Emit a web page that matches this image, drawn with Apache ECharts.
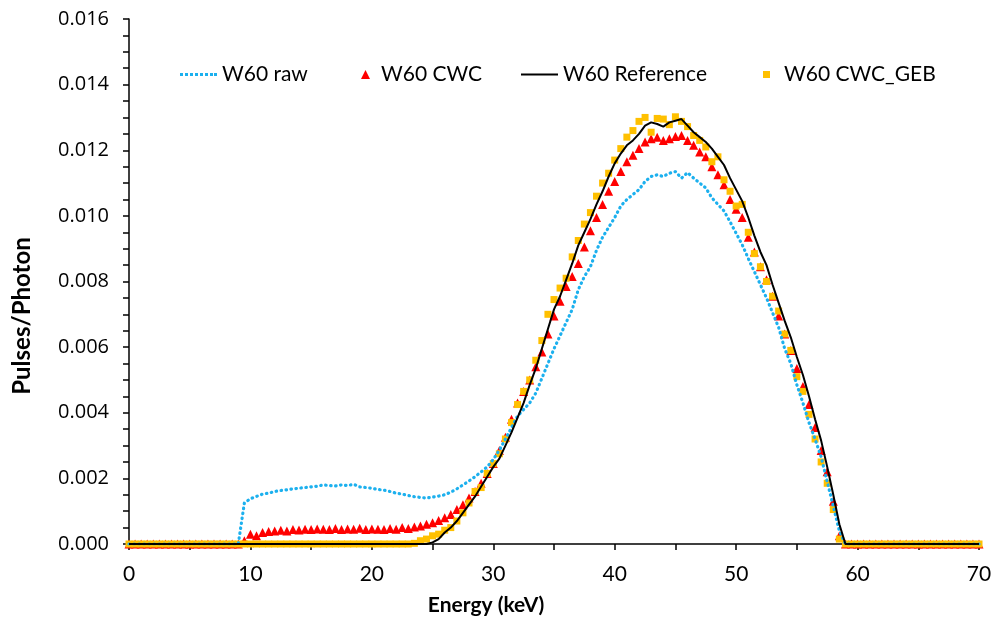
<!DOCTYPE html>
<html>
<head>
<meta charset="utf-8">
<title>W60 spectra</title>
<script src="https://cdn.jsdelivr.net/npm/echarts@6/dist/echarts.min.js"></script>
<style>
  html, body { margin: 0; padding: 0; background: #fff; }
  #chart { width: 995px; height: 625px; }
</style>
</head>
<body>
<div id="chart"></div>
<script>
// energie (keV), pas de 0.5
var energy = [
  0, 0.5, 1, 1.5, 2, 2.5, 3, 3.5, 4, 4.5,
  5, 5.5, 6, 6.5, 7, 7.5, 8, 8.5, 9, 9.5,
  10, 10.5, 11, 11.5, 12, 12.5, 13, 13.5, 14, 14.5,
  15, 15.5, 16, 16.5, 17, 17.5, 18, 18.5, 19, 19.5,
  20, 20.5, 21, 21.5, 22, 22.5, 23, 23.5, 24, 24.5,
  25, 25.5, 26, 26.5, 27, 27.5, 28, 28.5, 29, 29.5,
  30, 30.5, 31, 31.5, 32, 32.5, 33, 33.5, 34, 34.5,
  35, 35.5, 36, 36.5, 37, 37.5, 38, 38.5, 39, 39.5,
  40, 40.5, 41, 41.5, 42, 42.5, 43, 43.5, 44, 44.5,
  45, 45.5, 46, 46.5, 47, 47.5, 48, 48.5, 49, 49.5,
  50, 50.5, 51, 51.5, 52, 52.5, 53, 53.5, 54, 54.5,
  55, 55.5, 56, 56.5, 57, 57.5, 58, 58.5, 59, 59.5,
  60, 60.5, 61, 61.5, 62, 62.5, 63, 63.5, 64, 64.5,
  65, 65.5, 66, 66.5, 67, 67.5, 68, 68.5, 69, 69.5,
  70
];

var w60Raw = [
  0, 0, 0, 0, 0, 0, 0, 0, 0, 0,
  0, 0, 0, 0, 0, 0, 0, 0, 0, 0.00125,
  0.00138, 0.00145, 0.00152, 0.00155, 0.00160, 0.00163, 0.00165, 0.00168, 0.00170, 0.00172,
  0.00174, 0.00176, 0.00180, 0.00178, 0.00177, 0.00180, 0.00178, 0.00182, 0.00174, 0.00172,
  0.00170, 0.00166, 0.00164, 0.00160, 0.00155, 0.00152, 0.00148, 0.00144, 0.00142, 0.00140,
  0.00143, 0.00146, 0.00150, 0.00158, 0.00168, 0.00180, 0.00192, 0.00205, 0.00220, 0.00235,
  0.00258, 0.00286, 0.00320, 0.00355, 0.00390, 0.00410, 0.00430, 0.00460, 0.00505, 0.00550,
  0.00595, 0.00635, 0.00675, 0.00715, 0.00775, 0.00815, 0.00845, 0.00895, 0.00935, 0.00965,
  0.00995, 0.01030, 0.01050, 0.01065, 0.01080, 0.01105, 0.01120, 0.01125, 0.01120, 0.01130,
  0.01135, 0.01115, 0.01132, 0.01115, 0.01100, 0.01085, 0.01055, 0.01035, 0.01015, 0.00982,
  0.00947, 0.00912, 0.00870, 0.00830, 0.00790, 0.00750, 0.00705, 0.00660, 0.00595, 0.00550,
  0.00485, 0.00430, 0.00370, 0.00320, 0.00265, 0.00190, 0.00115, 0.00040, 0, 0,
  0, 0, 0, 0, 0, 0, 0, 0, 0, 0,
  0, 0, 0, 0, 0, 0, 0, 0, 0, 0,
  0
];

var w60Cwc = [
  0, 0, 0, 0, 0, 0, 0, 0, 0, 0,
  0, 0, 0, 0, 0, 0, 0, 0, 0, 0.00010,
  0.00030, 0.00025, 0.00035, 0.00038, 0.00040, 0.00042, 0.00040, 0.00044, 0.00043, 0.00045,
  0.00044, 0.00046, 0.00045, 0.00044, 0.00047, 0.00044, 0.00046, 0.00045, 0.00048, 0.00044,
  0.00046, 0.00045, 0.00044, 0.00047, 0.00045, 0.00050, 0.00047, 0.00052, 0.00055, 0.00060,
  0.00065, 0.00072, 0.00080, 0.00090, 0.00105, 0.00120, 0.00140, 0.00160, 0.00185, 0.00215,
  0.00245, 0.00285, 0.00325, 0.00380, 0.00430, 0.00465, 0.00500, 0.00540, 0.00585, 0.00640,
  0.00695, 0.00740, 0.00785, 0.00815, 0.00855, 0.00905, 0.00955, 0.00995, 0.01035, 0.01075,
  0.01105, 0.01135, 0.01165, 0.01185, 0.01205, 0.01225, 0.01235, 0.01240, 0.01230, 0.01235,
  0.01242, 0.01245, 0.01230, 0.01215, 0.01195, 0.01180, 0.01150, 0.01125, 0.01095, 0.01050,
  0.01020, 0.00995, 0.00935, 0.00890, 0.00845, 0.00805, 0.00755, 0.00695, 0.00640, 0.00590,
  0.00535, 0.00480, 0.00425, 0.00355, 0.00285, 0.00220, 0.00130, 0.00025, 0, 0,
  0, 0, 0, 0, 0, 0, 0, 0, 0, 0,
  0, 0, 0, 0, 0, 0, 0, 0, 0, 0,
  0
];

var w60Reference = [
  0, 0, 0, 0, 0, 0, 0, 0, 0, 0,
  0, 0, 0, 0, 0, 0, 0, 0, 0, 0,
  0, 0, 0, 0, 0, 0, 0, 0, 0, 0,
  0, 0, 0, 0, 0, 0, 0, 0, 0, 0,
  0, 0, 0, 0, 0, 0, 0, 0, 0, 0,
  0.00005, 0.00015, 0.00035, 0.00050, 0.00070, 0.00095, 0.00120, 0.00145, 0.00175, 0.00205,
  0.00235, 0.00260, 0.00300, 0.00340, 0.00385, 0.00430, 0.00485, 0.00535, 0.00595, 0.00655,
  0.00715, 0.00755, 0.00805, 0.00855, 0.00910, 0.00950, 0.00990, 0.01035, 0.01075, 0.01120,
  0.01160, 0.01190, 0.01215, 0.01230, 0.01250, 0.01275, 0.01285, 0.01280, 0.01272, 0.01285,
  0.01290, 0.01295, 0.01275, 0.01255, 0.01240, 0.01225, 0.01205, 0.01180, 0.01155, 0.01115,
  0.01080, 0.01045, 0.00995, 0.00940, 0.00890, 0.00850, 0.00790, 0.00735, 0.00680, 0.00630,
  0.00570, 0.00515, 0.00450, 0.00380, 0.00315, 0.00235, 0.00150, 0.00060, 0, 0,
  0, 0, 0, 0, 0, 0, 0, 0, 0, 0,
  0, 0, 0, 0, 0, 0, 0, 0, 0, 0,
  0
];

var w60CwcGeb = [
  0, 0, 0, 0, 0, 0, 0, 0, 0, 0,
  0, 0, 0, 0, 0, 0, 0, 0, 0, 0,
  0, 0, 0, 0, 0, 0, 0, 0, 0, 0,
  0, 0, 0, 0, 0, 0, 0, 0, 0, 0,
  0, 0, 0, 0, 0, 0, 0, 0.00002, 0.00010, 0.00015,
  0.00025, 0.00030, 0.00042, 0.00050, 0.00070, 0.00095, 0.00125, 0.00160, 0.00172, 0.00215,
  0.00245, 0.00275, 0.00320, 0.00370, 0.00425, 0.00465, 0.00500, 0.00560, 0.00620, 0.00700,
  0.00745, 0.00780, 0.00810, 0.00875, 0.00925, 0.00975, 0.01010, 0.01060, 0.01100, 0.01130,
  0.01170, 0.01205, 0.01240, 0.01260, 0.01288, 0.01300, 0.01255, 0.01297, 0.01295, 0.01278,
  0.01302, 0.01288, 0.01272, 0.01245, 0.01230, 0.01210, 0.01165, 0.01180, 0.01110, 0.01075,
  0.01030, 0.01035, 0.00950, 0.00885, 0.00845, 0.00800, 0.00755, 0.00710, 0.00640, 0.00590,
  0.00510, 0.00465, 0.00395, 0.00320, 0.00250, 0.00185, 0.00105, 0.00015, 0, 0,
  0, 0, 0, 0, 0, 0, 0, 0, 0, 0,
  0, 0, 0, 0, 0, 0, 0, 0, 0, 0,
  0
];

var seriesNames = ['W60 raw', 'W60 CWC', 'W60 Reference', 'W60 CWC_GEB'];

function pairs(values) {
  return energy.map(function (e, i) { return [e, values[i]]; });
}

var dom = document.getElementById('chart');
var myChart = echarts.init(dom, null, { renderer: 'canvas' });

var txt = { color: '#000', fontFamily: 'Lato', fontSize: 21 };

// icones de legende (pointillé et trait)
var dotIcon = 'path://M0,0h3v3h-3z M5,0h3v3h-3z M10,0h3v3h-3z M15,0h3v3h-3z M20,0h3v3h-3z M25,0h3v3h-3z M30,0h3v3h-3z M34,0h3v3h-3z';
var lineIcon = 'path://M0,0H37V2H0Z';

function legendAt(name, icon, left, w, h, padLeft) {
  return {
    data: [{ name: name, icon: icon }],
    left: left,
    top: 59,
    itemWidth: w,
    itemHeight: h,
    textStyle: Object.assign({ padding: [0, 0, 0, padLeft] }, txt)
  };
}

var option = {
  animation: false,
  backgroundColor: '#fff',
  grid: { left: 129, right: 16, top: 19, bottom: 81, containLabel: false },
  legend: [
    legendAt(seriesNames[0], dotIcon, 175, 37, 3, 0),
    legendAt(seriesNames[1], 'triangle', 356, 9, 9, 6),
    legendAt(seriesNames[2], lineIcon, 516, 37, 2, 0),
    legendAt(seriesNames[3], 'rect', 758, 7, 7, 9)
  ],
  // titres des axes
  graphic: [{
    type: 'text',
    x: 22,
    y: 316,
    rotation: Math.PI / 2,
    style: {
      text: 'Pulses/Photon',
      fill: '#000',
      font: 'bold 24px Lato',
      align: 'center',
      verticalAlign: 'middle'
    }
  }, {
    type: 'text',
    x: 486,
    y: 605,
    style: {
      text: 'Energy (keV)',
      fill: '#000',
      font: 'bold 21px Lato',
      align: 'center',
      verticalAlign: 'middle'
    }
  }],
  xAxis: {
    type: 'value',
    min: 0,
    max: 70,
    interval: 10,
    axisLine: { onZero: false, lineStyle: { color: '#000', width: 1.5 } },
    axisTick: { show: true, inside: false, length: 6, lineStyle: { color: '#000', width: 1.5 } },
    minorTick: { show: true, splitNumber: 2, length: 6, lineStyle: { color: '#000', width: 1.5 } },
    axisLabel: { color: '#000', fontFamily: 'Lato', fontSize: 21, margin: 20 },
    splitLine: { show: false }
  },
  yAxis: {
    type: 'value',
    min: 0,
    max: 0.016,
    interval: 0.002,
    axisLine: { show: true, lineStyle: { color: '#000', width: 1.5 } },
    axisTick: { show: true, inside: false, length: 6, lineStyle: { color: '#000', width: 1.5 } },
    minorTick: { show: true, splitNumber: 4, length: 6, lineStyle: { color: '#000', width: 1.5 } },
    axisLabel: {
      color: '#000', fontFamily: 'Open Sans', fontSize: 20, margin: 20,
      formatter: function (v) { return v.toFixed(3); }
    },
    splitLine: { show: false }
  },
  series: [
    {
      name: seriesNames[0],
      type: 'line',
      data: pairs(w60Raw),
      showSymbol: false,
      symbol: 'none',
      color: '#1CB0EE',
      lineStyle: { color: '#1CB0EE', width: 3.2, type: [0.5, 4.5], cap: 'round' }
    },
    {
      name: seriesNames[1],
      type: 'scatter',
      data: pairs(w60Cwc),
      symbol: 'triangle',
      symbolSize: 9,
      itemStyle: { color: '#FF0000', opacity: 1 }
    },
    {
      name: seriesNames[2],
      type: 'line',
      data: pairs(w60Reference),
      showSymbol: false,
      symbol: 'none',
      color: '#000',
      lineStyle: { color: '#000', width: 2 }
    },
    {
      name: seriesNames[3],
      type: 'scatter',
      data: pairs(w60CwcGeb),
      symbol: 'rect',
      symbolSize: 7,
      itemStyle: { color: '#FFC000', opacity: 1 }
    }
  ]
};

if (option && typeof option === 'object') {
  myChart.setOption(option, true);
}
</script>
</body>
</html>
